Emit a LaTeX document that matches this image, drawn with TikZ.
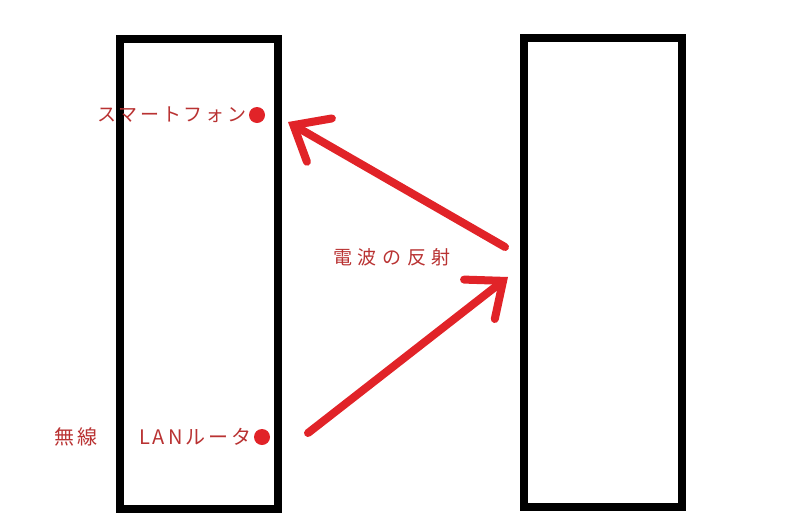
\documentclass[tikz,border=0pt]{standalone}
\usepackage{fontspec}
\newfontfamily\jpfont[LetterSpace=15]{Noto Sans CJK JP}
\newfontfamily\jpwidefont[LetterSpace=30]{Noto Sans CJK JP}
\usetikzlibrary{arrows.meta}
\definecolor{wavered}{RGB}{225,35,40}
\definecolor{labelred}{RGB}{185,50,50}

\begin{document}
\begin{tikzpicture}[x=1pt, y=-1pt,
    wall/.style={draw=black, line width=8pt},
    wave/.style={draw=wavered, line width=8pt, line cap=round,
        -{Straight Barb[length=30pt, width=50pt, line cap=round]}},
    device/.style={circle, fill=wavered, inner sep=0pt, minimum size=16pt},
    jplabel/.style={text=labelred, inner sep=2pt, font=\jpfont\fontsize{19}{19}\selectfont}]
    \useasboundingbox (0,0) rectangle (800,512);

    % Walls
    \draw[wall] (120,39) rectangle (278,509);
    \draw[wall] (524,38) rectangle (682,507);

    % Devices
    \node[device] (phone) at (257,115) {};
    \node[device] (router) at (262,437) {};
    \node[jplabel, anchor=east] (phonelabel) at (phone.west) {スマートフォン};
    \node[jplabel, anchor=east, font=\jpfont\fontsize{20}{20}\selectfont] (routerlabel)
        at (router.west) {無線\hspace{42pt}LANルータ};

    % Reflected wave
    \coordinate (startA) at (308,433);
    \coordinate (hitA) at (508,277);
    \coordinate (hitB) at (505,247);
    \coordinate (endB) at (288,122);
    \draw[wave] (startA) -- (hitA);
    \draw[wave] (hitB) -- (endB);
    \node[jplabel, font=\jpwidefont\fontsize{19}{19}\selectfont] (reflect) at (392,257) {電波の反射};
\end{tikzpicture}
\end{document}
